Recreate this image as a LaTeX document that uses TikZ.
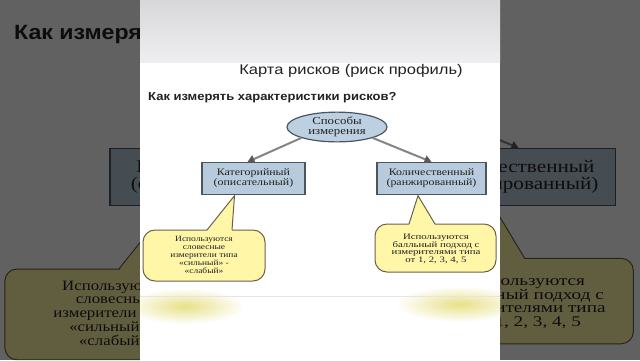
\documentclass[tikz,border=0pt]{standalone}
\usepackage{fontspec}
\usepackage{graphicx}
\setmainfont{Liberation Serif}
\newfontfamily\sansf{Liberation Sans}
\usetikzlibrary{shapes.geometric,arrows.meta,calc}

\definecolor{boxfill}{HTML}{B8CBDC}
\definecolor{boxline}{HTML}{4A5560}
\definecolor{ellfill}{HTML}{BCD0E2}
\definecolor{callfill}{HTML}{FFF6A8}
\definecolor{callline}{HTML}{6A6248}
\definecolor{arrowc}{HTML}{858585}
\definecolor{tipc}{HTML}{5A5A5A}
\definecolor{txt}{HTML}{222222}
\definecolor{bandtop}{HTML}{D8D8DA}
\definecolor{bandbot}{HTML}{EEEEF0}
\definecolor{blob}{HTML}{E8E088}

% horizontally stretched, centred multi-line text
\newcommand\stretched[2]{\scalebox{#1}[1]{\begin{tabular}{@{}c@{}}#2\end{tabular}}}

\tikzset{
  catbox/.style={draw=boxline, line width=1.2pt, fill=boxfill, minimum height=32pt,
    align=center, text=txt, font=\fontsize{10}{9.5}\selectfont, inner sep=0pt},
  ellnode/.style={ellipse, draw=boxline, line width=1.2pt, fill=ellfill,
    minimum width=100pt, minimum height=26pt, align=center, text=txt,
    font=\fontsize{10.7}{10.3}\selectfont, inner sep=0pt},
  calltext/.style={align=center, text=txt, inner sep=0pt},
  callshape/.style={draw=callline, line width=1pt, fill=callfill},
  callside/.style={draw=callline, line width=1pt, line join=miter},
  link/.style={draw=arrowc, line width=2pt, -{Triangle[length=7pt,width=8pt,color=tipc]}},
  titletext/.style={text=txt, inner sep=0pt, font=\sansf\fontsize{14}{14}\selectfont},
  subtext/.style={text=txt, inner sep=0pt, font=\sansf\bfseries\fontsize{11.6}{12}\selectfont},
}

\newcommand\panelcontent[1]{%
  % panel background
  \fill[white] (140,0) rectangle (500,360);
  \begin{scope}
    \clip (140,0) rectangle (500,360);
    \shade[top color=bandtop, bottom color=bandbot] (140,0) rectangle (500,62);
    \shade[inner color=blob, outer color=white] (185,306) ellipse (60 and 18);
    \shade[inner color=blob, outer color=white] (460,304) ellipse (65 and 18);
    \draw[black!10, line width=0.6pt] (140,296) -- (500,296);
  \end{scope}
  % titles
  \node[titletext] (#1title) at (351,71) {\scalebox{1.18}[1]{Карта рисков (риск профиль)}};
  \node[subtext, anchor=west] (#1sub) at (148,98) {\scalebox{1.12}[1]{Как измерять характеристики рисков?}};
  % diagram
  \node[ellnode] (#1ell) at (337,127) {\stretched{1.2}{Способы\\измерения}};
  \node[catbox, minimum width=103pt] (#1lcat) at (253.5,178.5) {\stretched{1.19}{Категорийный\\(описательный)}};
  \node[catbox, minimum width=109pt] (#1rcat) at (431.5,178.5) {\stretched{1.19}{Количественный\\(ранжированный)}};
  \draw[link] (#1ell.south west) -- ($(#1lcat.north)+(-6,0)$);
  \draw[link] (#1ell.south east) -- ($(#1rcat.north)+(0,0)$);
  % left callout
  \draw[callshape, rounded corners=12pt] (143,230) rectangle (265,281);
  \fill[callfill] (207,231) -- ($(#1lcat.south)+(-19,0.6)$) -- (232,231) -- cycle;
  \draw[callside] (207,230) -- ($(#1lcat.south)+(-19,0.6)$) -- (232,230);
  \node[calltext, font=\fontsize{8}{7.7}\selectfont] (#1lcall) at (204,256)
    {\stretched{1.18}{Используются\\словесные\\измерители типа\\«сильный» -\\«слабый»}};
  % right callout
  \draw[callshape, rounded corners=12pt] (375,224) rectangle (496,272);
  \fill[callfill] (409,225) -- ($(#1rcat.south)+(-13.5,0.6)$) -- (435,225) -- cycle;
  \draw[callside] (409,224) -- ($(#1rcat.south)+(-13.5,0.6)$) -- (435,224);
  \node[calltext, font=\fontsize{8.3}{7.3}\selectfont] (#1rcall) at (436,249)
    {\stretched{1.3}{Используются\\балльный подход с\\измерителями типа\\от 1, 2, 3, 4, 5}};
}

\begin{document}
\begin{tikzpicture}[x=1pt,y=-1pt]
\useasboundingbox (0,0) rectangle (640,360);
% darkened, enlarged background copy on both sides
\begin{scope}
  \clip (0,0) rectangle (140,360) (500,0) rectangle (640,360);
  \begin{scope}[shift={(320,180)}, scale=1.78, shift={(-320,-180)}, transform shape]
    \panelcontent{s}
  \end{scope}
  \fill[black, opacity=0.62] (0,0) rectangle (640,360);
\end{scope}
% central panel
\panelcontent{m}
\end{tikzpicture}
\end{document}
